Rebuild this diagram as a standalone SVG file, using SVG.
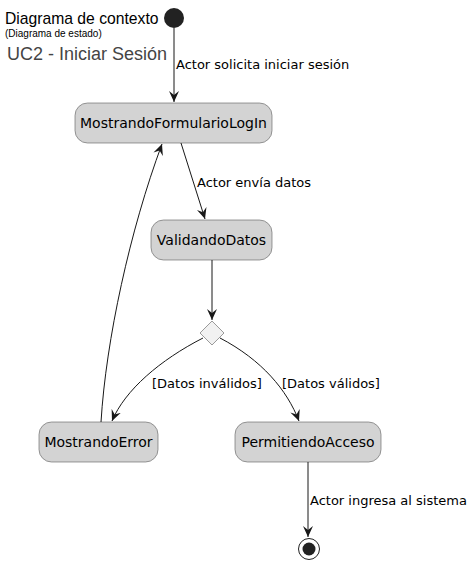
<svg xmlns="http://www.w3.org/2000/svg" width="473" height="566" viewBox="0 0 473 566">
<style>
.st{fill:#D3D3D3;stroke:#5A5A5A;stroke-width:0.6}
.nt{font-family:"DejaVu Sans",sans-serif;font-size:14px;fill:#000;text-anchor:middle}
.lb{font-family:"DejaVu Sans",sans-serif;font-size:13px;fill:#000}
.ln{fill:none;stroke:#181818;stroke-width:1}
</style>
<defs>
<marker id="ah" viewBox="0 0 12 10" refX="11" refY="5" markerWidth="12" markerHeight="10" markerUnits="userSpaceOnUse" orient="auto">
<path d="M0,0 L11,5 L0,10 L4,5 Z" fill="#181818"/>
</marker>
</defs>
<rect width="473" height="566" fill="#FFFFFF"/>
<g id="title">
<text x="5" y="24" font-family="Liberation Sans,Arial,sans-serif" font-size="15.7">Diagrama de contexto</text>
<text x="5" y="37" font-family="Liberation Sans,Arial,sans-serif" font-size="10">(Diagrama de estado)</text>
<text x="7" y="60" font-family="Liberation Sans,Arial,sans-serif" font-size="18" fill="#444444">UC2 - Iniciar Sesión</text>
</g>
<g id="start"><circle cx="174" cy="18" r="10" fill="#222222"/></g>
<g id="MostrandoFormularioLogIn"><rect class="st" x="75" y="103" width="197" height="40" rx="12.5"/><text class="nt" x="173.5" y="128">MostrandoFormularioLogIn</text></g>
<g id="ValidandoDatos"><rect class="st" x="151" y="220" width="121" height="40" rx="12.5"/><text class="nt" x="211.5" y="245">ValidandoDatos</text></g>
<g id="decision"><polygon points="212,321 224,333 212,345 200,333" fill="#F1F1F1" stroke="#5A5A5A" stroke-width="0.6"/></g>
<g id="MostrandoError"><rect class="st" x="39" y="422" width="119" height="40" rx="12.5"/><text class="nt" x="98.5" y="447">MostrandoError</text></g>
<g id="PermitiendoAcceso"><rect class="st" x="235" y="422" width="146" height="40" rx="12.5"/><text class="nt" x="308" y="447">PermitiendoAcceso</text></g>
<g id="end"><circle cx="309" cy="549" r="10.5" fill="none" stroke="#222222" stroke-width="1"/><circle cx="309" cy="549" r="6.5" fill="#222222"/></g>
<g id="connectors">
<path class="ln" d="M174,28 L174,102" marker-end="url(#ah)"/>
<text class="lb" x="176" y="69">Actor solicita iniciar sesión</text>
<path class="ln" d="M181,143 L205,219" marker-end="url(#ah)"/>
<text class="lb" x="197" y="187">Actor envía datos</text>
<path class="ln" d="M212,260 L212,320" marker-end="url(#ah)"/>
<path class="ln" d="M203,338 C160,360 125,390 112,421" marker-end="url(#ah)"/>
<text class="lb" x="152" y="388">[Datos inválidos]</text>
<path class="ln" d="M220,338 C262,360 287,390 299,421" marker-end="url(#ah)"/>
<text class="lb" x="282" y="388">[Datos válidos]</text>
<path class="ln" d="M101,422 C106,340 130,230 162,144" marker-end="url(#ah)"/>
<path class="ln" d="M308,462 L308,537" marker-end="url(#ah)"/>
<text class="lb" x="310" y="505">Actor ingresa al sistema</text>
</g>
</svg>
